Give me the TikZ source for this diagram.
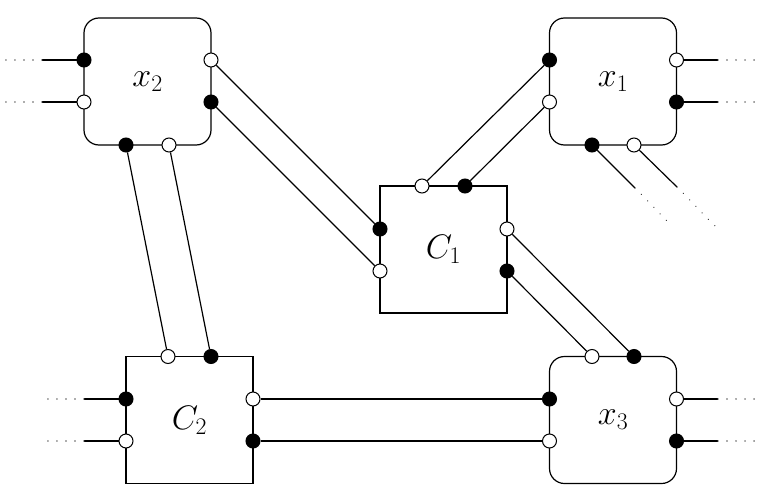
\documentclass[tikz,border=0pt]{standalone}
\usepackage{fix-cm}
\begin{document}
\begin{tikzpicture}[x=1pt,y=-1pt,
  lbl/.style={font=\fontsize{34}{40}\selectfont},
  rbox/.style={draw, line width=1.2pt, minimum width=127pt, minimum height=127pt, inner sep=0pt, rounded corners=15pt, lbl},
  sbox/.style={draw, line width=1.2pt, minimum width=127pt, minimum height=127pt, inner sep=0pt, lbl},
  fport/.style={circle, draw, fill=black, line width=1pt, minimum size=14pt, inner sep=0pt},
  oport/.style={circle, draw, fill=white, line width=1pt, minimum size=14pt, inner sep=0pt},
  wire/.style={line width=1.2pt},
  dotline/.style={line width=1.4pt, line cap=round, dash pattern=on 0.01pt off 9pt, black!75}]
\useasboundingbox (0,0) rectangle (758,498);
% boxes
\node[rbox] (X2) at (147.5,81.5) {$x_2$};
\node[rbox] (X1) at (613,81.5) {$x_1$};
\node[sbox] (C1) at (443.5,249.5) {$C_1$};
\node[sbox] (C2) at (189.5,420) {$C_2$};
\node[rbox] (X3) at (613,420) {$x_3$};
% ports x2
\node[fport] (x2l1) at (84,60) {};
\node[oport] (x2l2) at (84,102) {};
\node[oport] (x2r1) at (211,60) {};
\node[fport] (x2r2) at (211,102) {};
\node[fport] (x2b1) at (126,145) {};
\node[oport] (x2b2) at (169,145) {};
% ports x1
\node[fport] (x1l1) at (549.5,60) {};
\node[oport] (x1l2) at (549.5,102) {};
\node[oport] (x1r1) at (676.5,60) {};
\node[fport] (x1r2) at (676.5,102) {};
\node[fport] (x1b1) at (592,145) {};
\node[oport] (x1b2) at (634,145) {};
% ports C1
\node[oport] (c1t1) at (422,186) {};
\node[fport] (c1t2) at (465,186) {};
\node[fport] (c1l1) at (380,229) {};
\node[oport] (c1l2) at (380,271) {};
\node[oport] (c1r1) at (507,229) {};
\node[fport] (c1r2) at (507,271) {};
% ports C2
\node[oport] (c2t1) at (168,356.5) {};
\node[fport] (c2t2) at (211,356.5) {};
\node[fport] (c2l1) at (126,399) {};
\node[oport] (c2l2) at (126,441) {};
\node[oport] (c2r1) at (253,399) {};
\node[fport] (c2r2) at (253,441) {};
% ports x3
\node[oport] (x3t1) at (592,356.5) {};
\node[fport] (x3t2) at (634,356.5) {};
\node[fport] (x3l1) at (549.5,399) {};
\node[oport] (x3l2) at (549.5,441) {};
\node[oport] (x3r1) at (676.5,399) {};
\node[fport] (x3r2) at (676.5,441) {};
% connections
\draw[wire] (x2r1) -- (c1l1);
\draw[wire] (x2r2) -- (c1l2);
\draw[wire] (x1l1) -- (c1t1);
\draw[wire] (x1l2) -- (c1t2);
\draw[wire] (c1r1) -- (x3t2);
\draw[wire] (c1r2) -- (x3t1);
\draw[wire] (x2b1) -- (c2t1);
\draw[wire] (x2b2) -- (c2t2);
\draw[wire] (c2r1) -- (x3l1);
\draw[wire] (c2r2) -- (x3l2);
% dangling ends
\coordinate (a1) at (42,60);   \coordinate (a1e) at (2,60);
\coordinate (a2) at (42,102);  \coordinate (a2e) at (4,102);
\coordinate (b1) at (718,60);  \coordinate (b1e) at (756,60);
\coordinate (b2) at (718,102); \coordinate (b2e) at (756,102);
\coordinate (d1) at (635,188); \coordinate (d1e) at (672,226);
\coordinate (d2) at (677,187); \coordinate (d2e) at (716,227);
\coordinate (e1) at (84,399);  \coordinate (e1e) at (44,399);
\coordinate (e2) at (84,441);  \coordinate (e2e) at (46,441);
\coordinate (f1) at (718,399); \coordinate (f1e) at (756,399);
\coordinate (f2) at (718,441); \coordinate (f2e) at (756,441);
\draw[wire] (x2l1) -- (a1); \draw[dotline] (a1) -- (a1e);
\draw[wire] (x2l2) -- (a2); \draw[dotline] (a2) -- (a2e);
\draw[wire] (x1r1) -- (b1); \draw[dotline] (b1) -- (b1e);
\draw[wire] (x1r2) -- (b2); \draw[dotline] (b2) -- (b2e);
\draw[wire] (x1b1) -- (d1); \draw[dotline] (d1) -- (d1e);
\draw[wire] (x1b2) -- (d2); \draw[dotline] (d2) -- (d2e);
\draw[wire] (c2l1) -- (e1); \draw[dotline] (e1) -- (e1e);
\draw[wire] (c2l2) -- (e2); \draw[dotline] (e2) -- (e2e);
\draw[wire] (x3r1) -- (f1); \draw[dotline] (f1) -- (f1e);
\draw[wire] (x3r2) -- (f2); \draw[dotline] (f2) -- (f2e);
\end{tikzpicture}
\end{document}
